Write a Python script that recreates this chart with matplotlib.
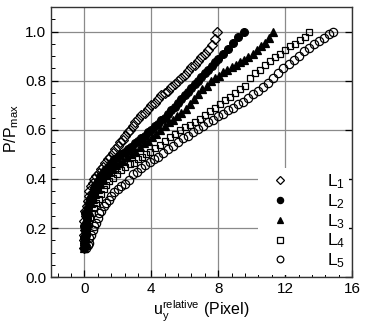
import matplotlib
matplotlib.use("Agg")
import matplotlib.pyplot as plt
from matplotlib.ticker import MultipleLocator

plt.rcParams['font.family'] = ['Liberation Sans', 'DejaVu Sans']
plt.rcParams['mathtext.fontset'] = 'custom'
plt.rcParams['mathtext.rm'] = 'Liberation Sans'
plt.rcParams['mathtext.it'] = 'Liberation Sans'
plt.rcParams['mathtext.bf'] = 'Liberation Sans'

# ---- data ----
x_L1 = [0.00, 0.05, -0.05, 0.00, 0.05, 0.10, 0.00, 0.10, 0.05, 0.15, 0.20, 0.25, 0.30, 0.40, 0.50, 0.60, 0.70, 0.85,
        1.00, 1.10, 1.25, 1.40, 1.55, 1.70, 1.85, 2.00, 2.15, 2.30, 2.45, 2.60, 2.75, 2.90, 3.05, 3.20, 3.40, 3.60,
        3.80, 4.00, 4.20, 4.40, 4.60, 4.80, 5.00, 5.20, 5.40, 5.60, 5.80, 6.00, 6.20, 6.40, 6.60, 6.80, 7.00, 7.20,
        7.40, 7.60, 7.80, 7.95]
y_L1 = [0.12, 0.13, 0.15, 0.17, 0.19, 0.21, 0.23, 0.25, 0.27, 0.29, 0.31, 0.33, 0.35, 0.37, 0.385, 0.40, 0.41, 0.425,
        0.44, 0.45, 0.465, 0.48, 0.49, 0.505, 0.52, 0.535, 0.55, 0.56, 0.575, 0.59, 0.60, 0.615, 0.63, 0.645, 0.66,
        0.67, 0.685, 0.70, 0.71, 0.725, 0.74, 0.75, 0.76, 0.775, 0.785, 0.80, 0.81, 0.825, 0.84, 0.855, 0.865, 0.88,
        0.895, 0.91, 0.925, 0.945, 0.97, 1.00]

x_L2 = [0.00, 0.05, -0.05, 0.00, 0.10, 0.05, 0.00, 0.10, 0.15, 0.05, 0.20, 0.25, 0.35, 0.45, 0.55, 0.65, 0.80, 0.95,
        1.10, 1.25, 1.40, 1.60, 1.80, 2.00, 2.20, 2.40, 2.60, 2.80, 3.00, 3.20, 3.40, 3.60, 3.80, 4.00, 4.20, 4.40,
        4.60, 4.80, 5.00, 5.20, 5.40, 5.60, 5.80, 6.00, 6.20, 6.40, 6.60, 6.80, 7.00, 7.20, 7.40, 7.60, 7.80, 8.00,
        8.30, 8.60, 8.90, 9.20, 9.55]
y_L2 = [0.12, 0.13, 0.14, 0.16, 0.17, 0.19, 0.21, 0.22, 0.24, 0.26, 0.28, 0.30, 0.32, 0.34, 0.36, 0.375, 0.39, 0.41,
        0.425, 0.435, 0.45, 0.465, 0.48, 0.49, 0.50, 0.51, 0.52, 0.53, 0.545, 0.555, 0.565, 0.575, 0.59, 0.60, 0.615,
        0.625, 0.64, 0.65, 0.665, 0.68, 0.695, 0.71, 0.725, 0.74, 0.755, 0.77, 0.785, 0.80, 0.815, 0.83, 0.845, 0.86,
        0.875, 0.89, 0.91, 0.93, 0.955, 0.98, 1.00]

x_L3 = [0.00, 0.05, 0.10, 0.00, 0.10, 0.20, 0.15, 0.30, 0.40, 0.50, 0.65, 0.80, 0.95, 1.10, 1.30, 1.50, 1.70, 1.90,
        2.10, 2.30, 2.55, 2.80, 3.05, 3.30, 3.55, 3.80, 4.05, 4.30, 4.55, 4.80, 5.05, 5.30, 5.55, 5.80, 6.05, 6.30,
        6.55, 6.80, 7.05, 7.30, 7.55, 7.80, 8.05, 8.30, 8.55, 8.80, 9.05, 9.30, 9.55, 9.80, 10.05, 10.30, 10.55,
        10.80, 11.05, 11.30]
y_L3 = [0.12, 0.14, 0.16, 0.18, 0.20, 0.22, 0.25, 0.27, 0.30, 0.32, 0.34, 0.36, 0.38, 0.395, 0.415, 0.43, 0.44, 0.455,
        0.465, 0.475, 0.49, 0.50, 0.515, 0.53, 0.545, 0.555, 0.57, 0.585, 0.60, 0.615, 0.63, 0.64, 0.655, 0.67, 0.685,
        0.705, 0.725, 0.745, 0.765, 0.78, 0.80, 0.81, 0.82, 0.835, 0.845, 0.855, 0.865, 0.875, 0.885, 0.895, 0.91,
        0.925, 0.94, 0.955, 0.975, 1.00]

x_L4 = [0.00, 0.05, 0.10, 0.05, 0.15, 0.25, 0.35, 0.45, 0.55, 0.70, 0.85, 1.00, 1.15, 1.30, 1.50, 1.70, 1.95, 2.20,
        2.45, 2.70, 2.95, 3.20, 3.45, 3.70, 3.95, 4.20, 4.50, 4.80, 5.10, 5.40, 5.70, 6.00, 6.30, 6.60, 6.90, 7.20,
        7.50, 7.80, 8.10, 8.40, 8.70, 9.00, 9.30, 9.60, 9.90, 10.20, 10.50, 10.80, 11.10, 11.40, 11.70, 12.00, 12.30,
        12.60, 12.90, 13.20, 13.45]
y_L4 = [0.12, 0.14, 0.16, 0.18, 0.20, 0.22, 0.24, 0.26, 0.28, 0.30, 0.32, 0.34, 0.36, 0.375, 0.39, 0.405, 0.42, 0.435,
        0.45, 0.46, 0.465, 0.48, 0.49, 0.50, 0.51, 0.525, 0.54, 0.555, 0.57, 0.585, 0.60, 0.61, 0.62, 0.63, 0.645,
        0.66, 0.675, 0.69, 0.705, 0.72, 0.735, 0.75, 0.765, 0.78, 0.81, 0.83, 0.845, 0.865, 0.88, 0.895, 0.91, 0.925,
        0.94, 0.95, 0.965, 0.98, 1.00]

x_L5 = [0.10, 0.20, 0.30, 0.25, 0.40, 0.50, 0.60, 0.70, 0.80, 0.90, 1.00, 1.15, 1.30, 1.45, 1.60, 1.80, 2.00, 2.20,
        2.40, 2.65, 2.90, 3.15, 3.40, 3.65, 3.90, 4.15, 4.40, 4.70, 5.00, 5.30, 5.60, 5.90, 6.20, 6.50, 6.80, 7.10,
        7.40, 7.70, 8.00, 8.30, 8.60, 8.90, 9.20, 9.50, 9.80, 10.10, 10.40, 10.70, 11.00, 11.30, 11.60, 11.90, 12.20,
        12.50, 12.80, 13.10, 13.40, 13.70, 14.00, 14.30, 14.60, 14.85]
y_L5 = [0.12, 0.13, 0.14, 0.16, 0.17, 0.19, 0.21, 0.22, 0.24, 0.26, 0.27, 0.29, 0.30, 0.315, 0.33, 0.345, 0.36, 0.37,
        0.38, 0.395, 0.42, 0.43, 0.445, 0.455, 0.47, 0.48, 0.49, 0.505, 0.52, 0.535, 0.55, 0.565, 0.575, 0.59, 0.605,
        0.615, 0.63, 0.64, 0.655, 0.665, 0.68, 0.69, 0.705, 0.715, 0.73, 0.745, 0.76, 0.775, 0.79, 0.81, 0.83, 0.85,
        0.87, 0.885, 0.90, 0.92, 0.935, 0.95, 0.96, 0.975, 0.99, 1.00]

labels = [r'L$_1$', r'L$_2$', r'L$_3$', r'L$_4$', r'L$_5$']
xticks = [0, 4, 8, 12, 16]
yticks = [0.0, 0.2, 0.4, 0.6, 0.8, 1.0]

series = [(x_L1, y_L1), (x_L2, y_L2), (x_L3, y_L3), (x_L4, y_L4), (x_L5, y_L5)]
styles = [dict(marker='D', ms=4.6, mfc='none'),
          dict(marker='o', ms=5.6, mfc='black'),
          dict(marker='^', ms=5.2, mfc='black'),
          dict(marker='s', ms=5.0, mfc='none'),
          dict(marker='o', ms=6.0, mfc='none')]

fig = plt.figure(figsize=(3.66, 3.23), dpi=100)
ax = fig.add_axes([0.139, 0.142, 0.823, 0.836])

for (xs, ys), st, lab in zip(series, styles, labels):
    ax.plot(xs, ys, linestyle='none', marker=st['marker'], markersize=st['ms'],
            markerfacecolor=st['mfc'], markeredgecolor='black', markeredgewidth=0.9,
            label=lab, zorder=3)

ax.set_xlim(-2, 16)
ax.set_ylim(0, 1.1)
ax.set_xticks(xticks)
ax.set_yticks(yticks)
ax.set_yticklabels([f'{v:.1f}' for v in yticks])
ax.xaxis.set_minor_locator(MultipleLocator(0.8))
ax.yaxis.set_minor_locator(MultipleLocator(0.05))
ax.grid(True, which='major', color='#8a8a8a', linewidth=0.9, zorder=0)
ax.set_axisbelow(True)
ax.tick_params(which='both', direction='in', labelsize=11, right=True)
ax.tick_params(which='major', length=5, width=0.9)
ax.tick_params(which='minor', length=3, width=0.7, right=False)
for s in ax.spines.values():
    s.set_linewidth(1.0)
    s.set_color('#333333')

ax.set_xlabel(r'$\mathrm{u}_\mathrm{y}^\mathrm{relative}$ (Pixel)', fontsize=11.5, labelpad=2)
ax.set_ylabel(r'P/P$_\mathrm{max}$', fontsize=11.5, labelpad=2)
ax.yaxis.set_label_coords(-0.10, 0.55)

leg_h = []
for st, lab in zip(styles, labels):
    h, = ax.plot([], [], linestyle='none', marker=st['marker'], markersize=st['ms'] * 0.8,
                 markerfacecolor=st['mfc'], markeredgecolor='black', markeredgewidth=0.9, label=lab)
    leg_h.append(h)
leg = ax.legend(handles=leg_h, loc='lower right', bbox_to_anchor=(1.0, 0.0), frameon=True,
                facecolor='white', edgecolor='none', framealpha=1.0, fancybox=False,
                fontsize=12.5, handlelength=2.0, handletextpad=1.7, labelspacing=0.06,
                borderpad=0.25, borderaxespad=0.15)
leg.set_zorder(5)

fig.savefig('out.png', dpi=100)
